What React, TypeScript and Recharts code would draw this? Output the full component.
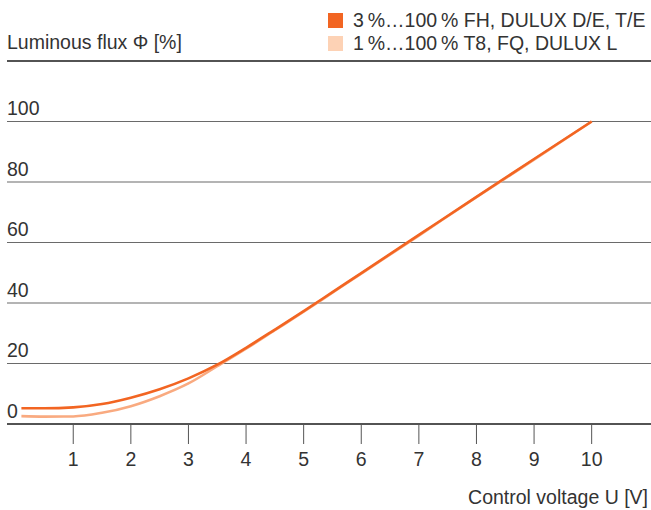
import React from "react";
import { LineChart, Line, XAxis, YAxis, CartesianGrid, ReferenceLine } from "recharts";

const voltages = [0.1, 0.5, 1, 1.5, 2, 2.5, 3, 3.5, 4, 4.5, 5, 5.5, 6, 7, 8, 9, 10];
const fluxFH = [5.2, 5.2, 5.5, 6.6, 8.7, 11.5, 15.1, 19.6, 25.2, 31.2, 37.3, 43.6, 49.9, 62.5, 75.1, 87.6, 100];
const fluxT8 = [2.6, 2.45, 2.5, 3.7, 5.9, 9.2, 13.4, 19.1, 24.9, 31.0, 37.1, 43.4, 49.7, 62.3, 75.0, 87.4, 100];
const xTicks = [1, 2, 3, 4, 5, 6, 7, 8, 9, 10];
const yTicks = [0, 20, 40, 60, 80, 100, 120];
const seriesNames = ["3\u2009%\u2026100\u2009% FH, DULUX D/E, T/E", "1\u2009%\u2026100\u2009% T8, FQ, DULUX L"];
const yTitle = "Luminous flux \u03a6 [%]";
const xTitle = "Control voltage U [V]";

const data = voltages.map((v, i) => ({ v, fh: fluxFH[i], t8: fluxT8[i] }));

const FONT = "'Liberation Sans', Arial, Helvetica, sans-serif";
const TEXT = "#333333";
const FS = 19.5;
const DARK = "#F26522";
const LIGHT_LINE = "#F9AA80";
const LIGHT_BOX = "#FDD2B5";

const YTick = (props: any) => {
  const { y, payload } = props;
  if (payload.value === 120) return <g />;
  return (
    <text x={7} y={y - 6.5} textAnchor="start" fontFamily={FONT} fontSize={FS} fill={TEXT}>
      {payload.value}
    </text>
  );
};

const XTick = (props: any) => {
  const { x, y, payload } = props;
  return (
    <text x={x} y={y + 20} textAnchor="middle" fontFamily={FONT} fontSize={FS} fill={TEXT}>
      {payload.value}
    </text>
  );
};

export default function App() {
  return (
    <div style={{ position: "absolute", left: 0, top: 0, width: 651, height: 510, background: "#fff", fontFamily: FONT, color: TEXT }}>
      <LineChart width={651} height={510} data={data} margin={{ top: 61, right: 0, bottom: 0, left: 0 }}>
        <CartesianGrid vertical={false} stroke="#6a6a6a" strokeWidth={1.2} />
        <XAxis
          dataKey="v"
          type="number"
          domain={[-0.15, 11.03]}
          ticks={xTicks}
          allowDataOverflow
          height={86}
          tickSize={20}
          tickLine={{ stroke: "#555", strokeWidth: 1 }}
          axisLine={{ stroke: "#333", strokeWidth: 1.3 }}
          tick={<XTick />}
          interval={0}
        />
        <YAxis
          type="number"
          domain={[0, 120]}
          ticks={yTicks}
          width={7}
          axisLine={false}
          tickLine={false}
          tick={<YTick />}
          interval={0}
        />
        <ReferenceLine y={120} stroke="#333" strokeWidth={1.3} />
        <Line dataKey="t8" type="monotone" stroke={LIGHT_LINE} strokeWidth={2.6} dot={false} isAnimationActive={false} />
        <Line dataKey="fh" type="monotone" stroke={DARK} strokeWidth={2.6} dot={false} isAnimationActive={false} />
      </LineChart>
      <div style={{ position: "absolute", left: 7, top: 31, fontSize: FS, whiteSpace: "nowrap", lineHeight: "22px" }}>{yTitle}</div>
      <div style={{ position: "absolute", right: 3, top: 486, fontSize: FS, whiteSpace: "nowrap", lineHeight: "22px" }}>{xTitle}</div>
      <div style={{ position: "absolute", left: 328, top: 9, fontSize: FS, lineHeight: "23px", whiteSpace: "nowrap" }}>
        {seriesNames.map((n, i) => (
          <div key={n} style={{ display: "flex", alignItems: "center" }}>
            <span style={{ display: "inline-block", width: 15, height: 15, background: i === 0 ? DARK : LIGHT_BOX, marginRight: 10 }} />
            <span>{n}</span>
          </div>
        ))}
      </div>
    </div>
  );
}
